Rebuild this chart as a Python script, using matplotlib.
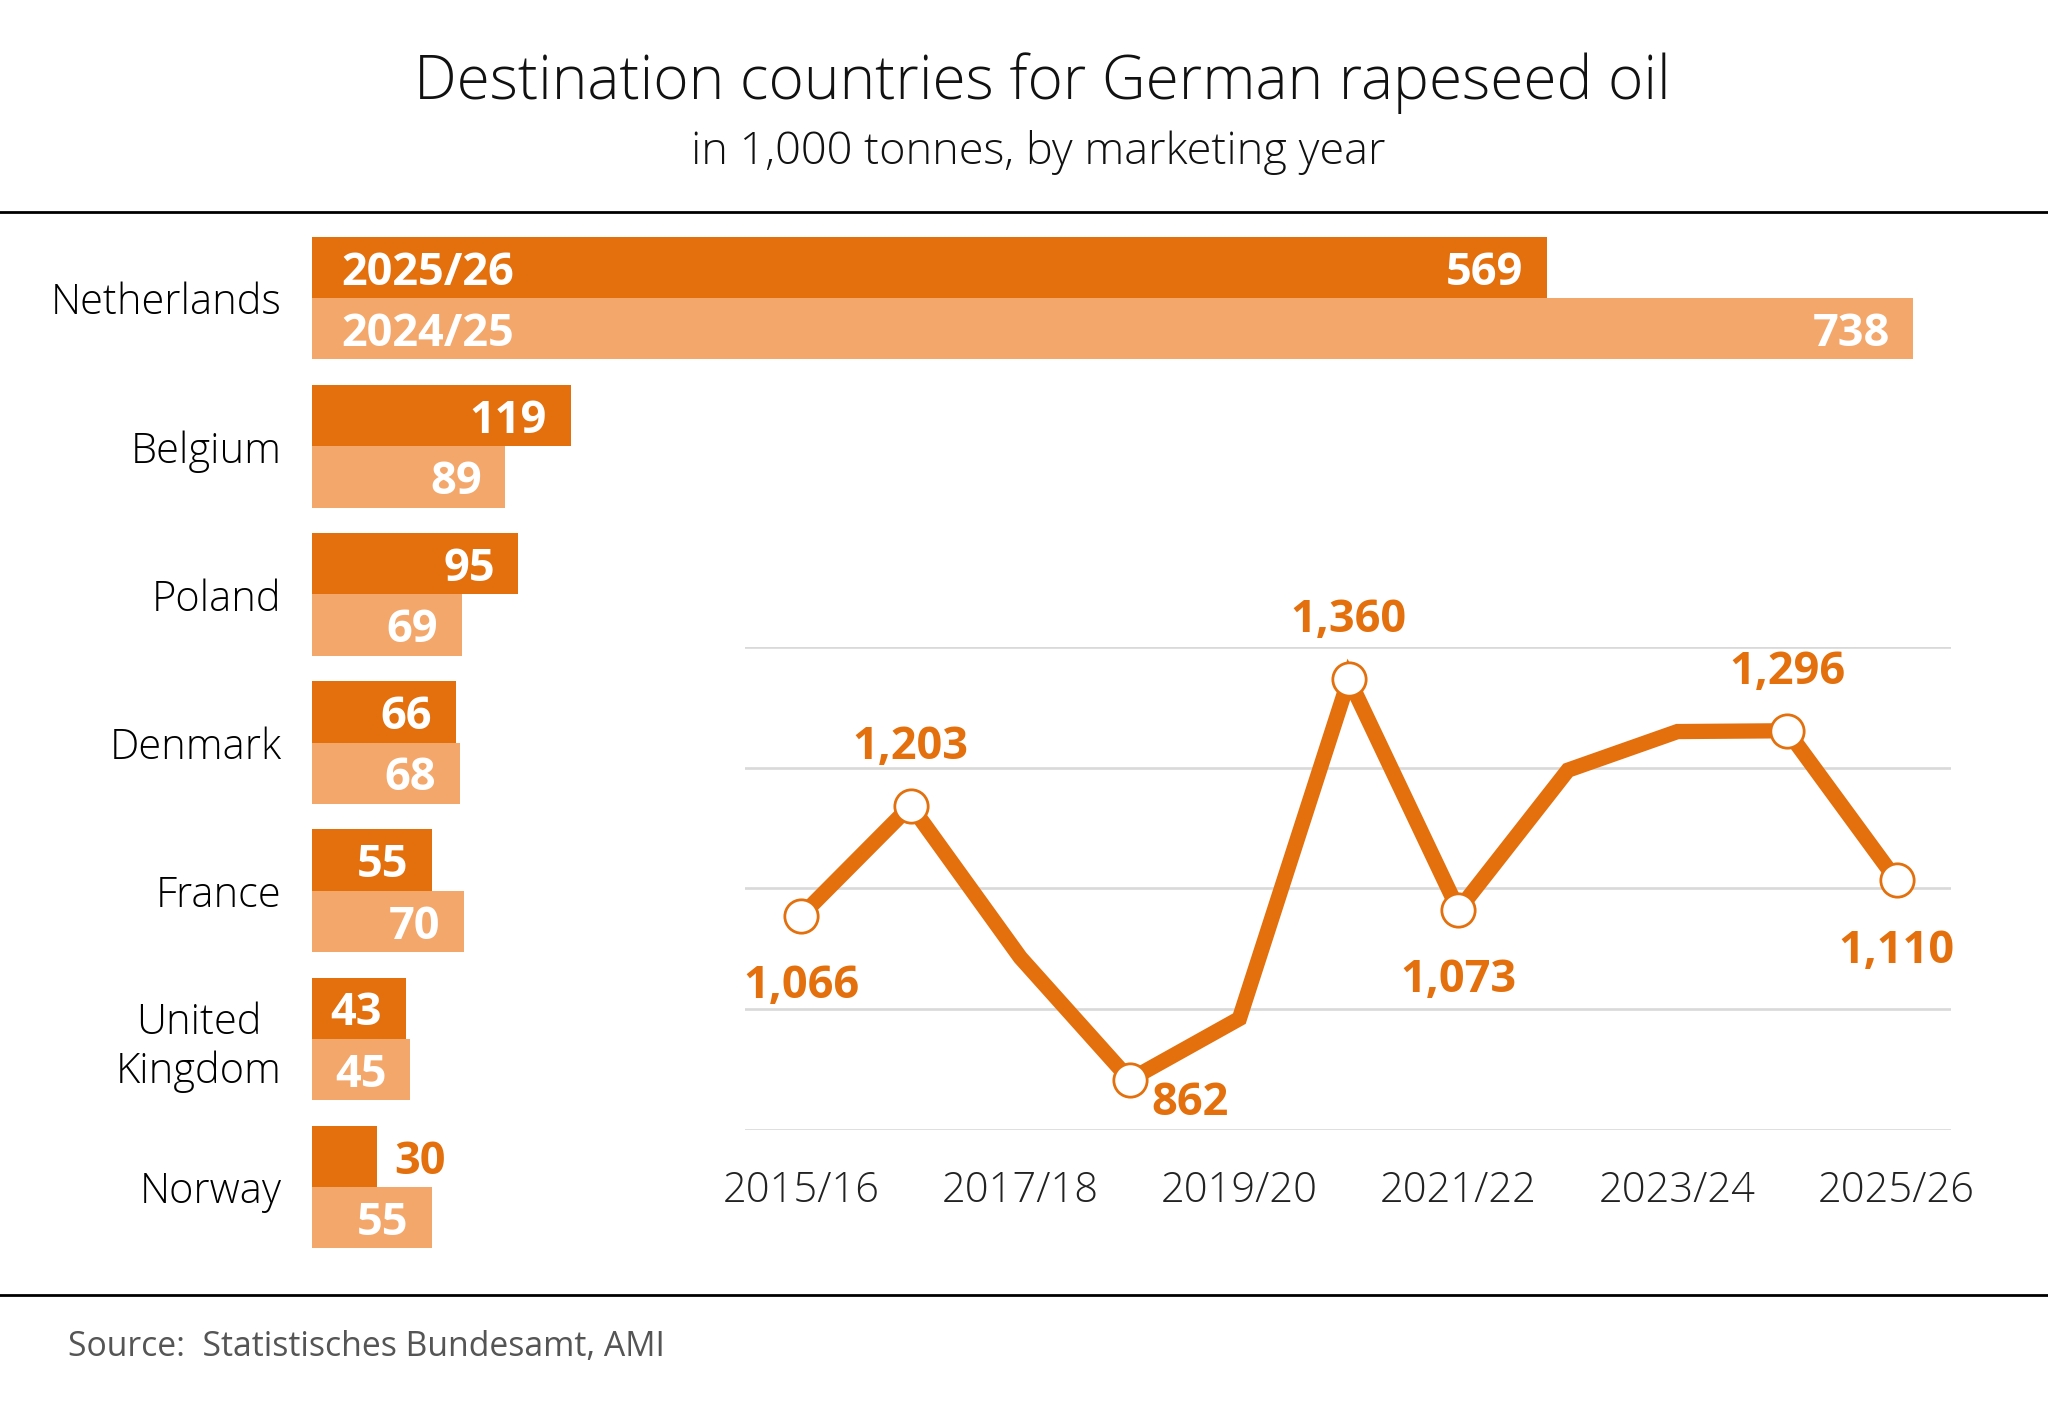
import matplotlib.pyplot as plt
from matplotlib.lines import Line2D

# bars: destination countries
countries = ["Netherlands", "Belgium", "Poland", "Denmark", "France", "United\nKingdom", "Norway"]
val_2526 = [569, 119, 95, 66, 55, 43, 30]
val_2425 = [738, 89, 69, 68, 70, 45, 55]

# line: total exports by marketing year
years = ["2015/16", "2016/17", "2017/18", "2018/19", "2019/20", "2020/21",
         "2021/22", "2022/23", "2023/24", "2024/25", "2025/26"]
totals = [1066, 1203, 1014, 862, 938, 1360, 1073, 1247, 1295, 1296, 1110]
labelled = {0: "below", 1: "above", 3: "right", 5: "above", 6: "below", 9: "above", 10: "below"}

DARK = "#E3700C"
LIGHT = "#F4A76A"
FONT = "Open Sans"

plt.rcParams['font.family'] = [FONT, 'DejaVu Sans']

fig = plt.figure(figsize=(20.48, 14.12), dpi=100)

fig.text(0.509, 0.941, "Destination countries for German rapeseed oil", ha="center", va="center",
         fontsize=43.5, fontweight="light", color="#111111")
fig.text(0.507, 0.892, "in 1,000 tonnes, by marketing year", ha="center", va="center",
         fontsize=32.5, fontweight="light", color="#111111")
fig.add_artist(Line2D([0, 1], [0.85, 0.85], color="black", lw=2))
fig.add_artist(Line2D([0, 1], [0.0828, 0.0828], color="black", lw=2))
fig.text(0.033, 0.0463, "Source:  Statistisches Bundesamt, AMI", ha="left", va="center",
         fontsize=24.3, color="#555555")

# ---- bar chart
ax = fig.add_axes([0.1525, 0.1157, 1 - 0.1525, 0.8324 - 0.1157])
ax.set_facecolor("none")
h = 0.414
ys = list(range(len(countries)))
ax.barh([y - h / 2 for y in ys], val_2526, height=h, color=DARK)
ax.barh([y + h / 2 for y in ys], val_2425, height=h, color=LIGHT)
ax.set_xlim(0, 800)
ax.set_ylim(6.415, -0.415)
ax.set_yticks(ys)
ax.set_yticklabels(countries)
ax.tick_params(axis="y", length=0, pad=22, labelsize=30)
for lab in ax.get_yticklabels():
    lab.set_multialignment("center")
    lab.set_fontweight("light")
ax.set_xticks([])
for s in ax.spines.values():
    s.set_visible(False)

VS = 32.5
for y, v1, v2 in zip(ys, val_2526, val_2425):
    if v1 >= 40:
        ax.annotate(str(v1), (v1, y - h / 2), xytext=(-17, -4), textcoords="offset points",
                    ha="right", va="center", fontsize=VS, fontweight="bold", color="white")
    else:
        ax.annotate(str(v1), (v1, y - h / 2), xytext=(12, -4), textcoords="offset points",
                    ha="left", va="center", fontsize=VS, fontweight="bold", color=DARK)
    ax.annotate(str(v2), (v2, y + h / 2), xytext=(-17, -4), textcoords="offset points",
                ha="right", va="center", fontsize=VS, fontweight="bold", color="white")

ax.annotate("2025/26", (0, -h / 2), xytext=(21, -4), textcoords="offset points",
            ha="left", va="center", fontsize=VS, fontweight="bold", color="white")
ax.annotate("2024/25", (0, h / 2), xytext=(21, -4), textcoords="offset points",
            ha="left", va="center", fontsize=VS, fontweight="bold", color="white")

# ---- line chart
lx = fig.add_axes([0.3638, 0.2, 0.9528 - 0.3638, 0.5417 - 0.2])
lx.set_facecolor("none")
xs = list(range(len(years)))
lx.set_xlim(-0.513, 10.5)
lx.set_ylim(800, 1400)
lx.set_yticks([800, 950, 1100, 1250, 1400])
lx.grid(axis="y", color="#D9D9D9", lw=1.9)
lx.set_axisbelow(True)
lx.tick_params(axis="y", length=0, labelleft=False)
lx.set_xticks(xs[::2])
lx.set_xticklabels(years[::2])
lx.tick_params(axis="x", length=0, pad=29, labelsize=30, labelcolor="#222222")
for lab in lx.get_xticklabels():
    lab.set_fontweight("light")
for s in lx.spines.values():
    s.set_visible(False)

lx.plot(xs, totals, color=DARK, lw=11, solid_joinstyle="miter", zorder=3)
mx = list(labelled.keys())
lx.plot(mx, [totals[i] for i in mx], "o", ms=24, mfc="white", mec=DARK, mew=2, zorder=4)

offsets = {"above": (0, 42), "below": (0, -51), "right": (43, -17)}
for i, pos in labelled.items():
    lx.annotate(f"{totals[i]:,}", (xs[i], totals[i]), xytext=offsets[pos], textcoords="offset points",
                ha="center", va="center", fontsize=VS, fontweight="bold", color=DARK, zorder=5)

fig.savefig("out.png", dpi=100)
